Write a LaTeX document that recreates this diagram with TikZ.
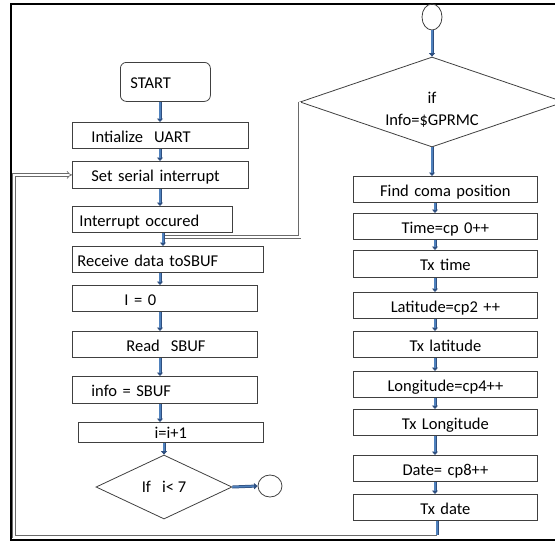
\documentclass[tikz,border=0pt]{standalone}
\usepackage{fontspec}
\setmainfont{Carlito}
\usetikzlibrary{shapes.geometric,arrows.meta}
\definecolor{boxline}{HTML}{404040}
\definecolor{arrblue}{HTML}{4F81BD}
\definecolor{arrdark}{HTML}{2F4F7F}
\definecolor{loopgray}{HTML}{6A6A6A}
\newcommand\flowfont{\fontsize{16.5}{22}\selectfont}
\begin{document}
\begin{tikzpicture}[x=1pt,y=-1pt,
  bx/.style={draw=boxline, line width=0.8pt, fill=white, minimum height=26pt, inner sep=0pt, font=\flowfont, anchor=north west, align=left, text height=15pt, text depth=1pt},
  rb/.style={bx, align=center, text width=184pt},
  arr/.style={draw=arrdark, line width=3pt, -{Triangle[length=3.5pt,width=6pt]},
              postaction={draw=arrblue, line width=1.5pt, -, shorten >=3.5pt}},
  plainarr/.style={draw=arrdark, line width=3pt, postaction={draw=arrblue, line width=1.5pt}},
  loopline/.style={draw=loopgray, line width=0.7pt, double=white, double distance=2pt},
  dia/.style={draw=boxline, line width=0.8pt, diamond, inner sep=0pt, font=\flowfont, align=center},
  conn/.style={draw=boxline, line width=0.8pt, ellipse, inner sep=0pt}
]
\useasboundingbox (0,0) rectangle (555,542);
\clip (0,0) rectangle (555,542);
% frame
\draw[line width=1.8pt, black] (11,4) rectangle (580,540);

% left column
\node[bx, rounded corners=6pt, text width=90pt, minimum height=39pt] (start) at (120,62) {\hspace*{10pt}START};
\node[bx, text width=176pt] (init) at (72,122) {\hspace*{19pt}Intialize\ \ UART};
\node[bx, text width=176pt, minimum height=27pt] (ser) at (72,161) {\hspace*{19pt}Set serial interrupt};
\node[bx, text width=160pt] (intr) at (72,206) {\hspace*{7pt}Interrupt occured};
\node[bx, text width=191pt] (recv) at (72,246) {\hspace*{5pt}Receive data toSBUF};
\node[bx, text width=185pt] (izero) at (72,285) {\hspace*{52pt}I = 0};
\node[bx, text width=185pt] (read) at (72,331) {\hspace*{54pt}Read\ \ SBUF};
\node[bx, text width=185pt, minimum height=27pt] (info) at (72,376) {\hspace*{19pt}info = SBUF};
\node[bx, text width=185pt, minimum height=20pt, align=center, text height=13pt, text depth=1pt] (incr) at (78,422) {i=i+1};
\node[dia, minimum width=136pt, minimum height=64pt] (d1) at (164,487) {If\ \ \ i< 7};
\node[conn, minimum width=24pt, minimum height=22pt] (c1) at (270,486) {};

% right column
\node[conn, minimum width=20pt, minimum height=26pt] (tc) at (432,17) {};
\node[dia, aspect=3, minimum width=264pt, minimum height=90pt, text height=46pt, text depth=0pt] (bd) at (432,102) {if\\Info=\$GPRMC};
\node[rb] (fc) at (353,176) {Find coma position};
\node[rb] (time) at (353,213) {Time=cp 0++};
\node[rb, minimum height=27pt] (txt) at (353,250) {Tx time};
\node[rb] (lat) at (353,292) {Latitude=cp2 ++};
\node[rb] (txl) at (353,331) {Tx latitude};
\node[rb] (lon) at (353,371) {Longitude=cp4++};
\node[rb] (txo) at (353,409) {Tx Longitude};
\node[rb] (date) at (353,455) {Date= cp8++};
\node[rb] (txd) at (353,494) {Tx date};

% helper coordinates
\coordinate (la) at (160,0);
\coordinate (ra) at (435,0);
\coordinate (jn) at (163,237);
\coordinate (bl) at (437,536.5);
\coordinate (lp) at (14,536.5);

% loop connectors
\draw[loopline, -{Implies}] (bl) -- (lp) -- (lp |- ser.west) -- (ser.west);
\draw[loopline] (bd.west) -- (bd.west |- jn) -- (jn);
\draw[plainarr] (txd.south -| bl) -- ([yshift=1.5pt]bl);

% left arrows
\draw[arr] (start.south -| la) -- (init.north -| la);
\draw[arr] (init.south -| la) -- (ser.north -| la);
\draw[arr] (ser.south -| la) -- (intr.north -| la);
\draw[arr] (intr.south -| jn) -- (recv.north -| jn);
\draw[arr] (recv.south -| la) -- (izero.north -| la);
\draw[arr] (izero.south -| la) -- (read.north -| la);
\draw[arr] (read.south -| la) -- (info.north -| la);
\draw[arr] (info.south -| la) -- (incr.north -| la);
\draw[arr] (incr.south -| d1.north) -- (d1.north);
\draw[arr] (d1.east) -- (c1.west);

% right arrows
\draw[arr] (tc.south) -- (bd.north);
\draw[arr] (bd.south) -- (fc.north -| bd.south);
\draw[arr] (fc.south -| ra) -- (time.north -| ra);
\draw[arr] (time.south -| ra) -- (txt.north -| ra);
\draw[arr] (txt.south -| ra) -- (lat.north -| ra);
\draw[arr] (lat.south -| ra) -- (txl.north -| ra);
\draw[arr] (txl.south -| ra) -- (lon.north -| ra);
\draw[arr] (lon.south -| ra) -- (txo.north -| ra);
\draw[arr] (txo.south -| ra) -- (date.north -| ra);
\draw[arr] (date.south -| ra) -- (txd.north -| ra);
\end{tikzpicture}
\end{document}
